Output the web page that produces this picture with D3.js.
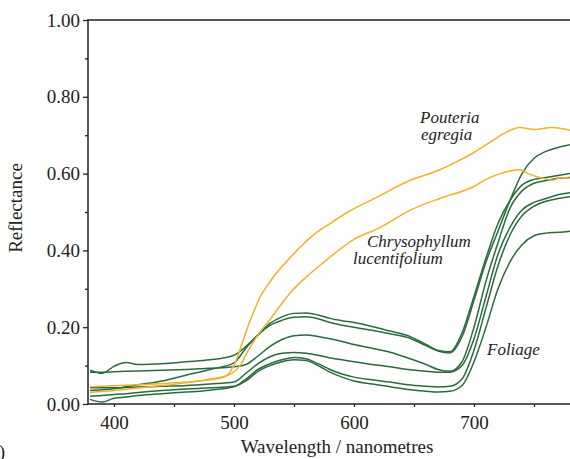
<!DOCTYPE html>
<html><head><meta charset="utf-8">
<script src="https://cdn.jsdelivr.net/npm/d3@7"></script>
<style>body{margin:0;background:#fff;} svg{display:block;}</style>
</head><body>
<svg id="chart" width="570" height="459"></svg>
<script>
// ---- data ----
const yTicks = [0, 0.2, 0.4, 0.6, 0.8, 1.0];
const yMinorTicks = [0.1, 0.3, 0.5, 0.7, 0.9];
const xTicks = [400, 500, 600, 700];
const xMinorTicks = [450, 550, 650, 750];

const greenNm = [380,390,400,410,420,440,460,480,500,510,520,530,540,550,560,570,580,590,600,615,630,645,660,670,680,690,700,710,720,730,740,750,760,770,780];
const foliage1 = [0.088,0.080,0.098,0.108,0.103,0.105,0.110,0.115,0.127,0.150,0.180,0.210,0.227,0.236,0.237,0.232,0.223,0.217,0.212,0.202,0.190,0.178,0.155,0.140,0.136,0.185,0.280,0.380,0.470,0.530,0.570,0.585,0.590,0.595,0.600];
const foliage2 = [0.035,0.037,0.040,0.045,0.050,0.060,0.075,0.090,0.107,0.146,0.180,0.205,0.218,0.226,0.227,0.222,0.212,0.205,0.200,0.192,0.183,0.173,0.152,0.138,0.133,0.175,0.270,0.370,0.450,0.530,0.600,0.640,0.658,0.668,0.675];
const foliage3 = [0.083,0.083,0.084,0.085,0.086,0.088,0.090,0.093,0.097,0.103,0.125,0.150,0.168,0.178,0.180,0.176,0.170,0.163,0.155,0.145,0.135,0.120,0.103,0.090,0.085,0.110,0.200,0.320,0.420,0.510,0.555,0.575,0.582,0.588,0.590];
const foliage4 = [0.042,0.042,0.042,0.043,0.044,0.046,0.048,0.052,0.057,0.080,0.105,0.123,0.132,0.134,0.132,0.127,0.120,0.115,0.110,0.103,0.097,0.090,0.085,0.083,0.083,0.100,0.170,0.280,0.390,0.460,0.505,0.525,0.535,0.545,0.550];
const foliage5 = [0.020,0.022,0.025,0.027,0.030,0.035,0.039,0.042,0.046,0.065,0.090,0.105,0.115,0.121,0.118,0.105,0.090,0.078,0.070,0.063,0.057,0.050,0.046,0.044,0.046,0.065,0.140,0.250,0.360,0.440,0.490,0.515,0.528,0.535,0.540];
const foliage6 = [0.012,0.005,0.015,0.018,0.022,0.027,0.031,0.036,0.045,0.060,0.085,0.100,0.110,0.115,0.113,0.100,0.083,0.070,0.060,0.052,0.045,0.038,0.033,0.031,0.033,0.048,0.110,0.200,0.300,0.370,0.415,0.438,0.445,0.447,0.450];

const pouteriaNm = [380,420,460,490,497,502,507,512,517,522,527,535,545,555,565,580,595,620,645,670,685,700,715,727,738,750,765,780];
const pouteria   = [0.045,0.050,0.057,0.068,0.085,0.115,0.160,0.205,0.245,0.280,0.305,0.340,0.375,0.408,0.437,0.470,0.500,0.540,0.580,0.608,0.630,0.655,0.685,0.708,0.720,0.715,0.720,0.713];
const chrysoNm = [380,400,430,460,480,495,505,512,520,530,547,560,574,599,622,647,672,699,710,720,730,738,745,755,766,772,780];
const chryso   = [0.030,0.035,0.045,0.055,0.065,0.075,0.100,0.140,0.180,0.220,0.290,0.330,0.367,0.427,0.460,0.505,0.536,0.565,0.585,0.598,0.607,0.610,0.600,0.590,0.583,0.590,0.588];

// ---- layout ----
const svg = d3.select("#chart");
const L = 88, T = 20, B = 404, R = 572;
const x = d3.scaleLinear().domain([400, 700]).range([114, 474]);
const y = d3.scaleLinear().domain([0, 1]).range([B, T]);
const FONT = "'Liberation Serif','Times New Roman',serif";
const GREEN = "#2a6b3d", YELLOW = "#f0b12c";

svg.append("defs").append("clipPath").attr("id","clip")
  .append("rect").attr("x", L).attr("y", T).attr("width", R - L).attr("height", B - T);

const line = d3.line().x(d => x(d[0])).y(d => y(d[1])).curve(d3.curveMonotoneX);
const g = svg.append("g").attr("clip-path","url(#clip)");

[foliage1, foliage2, foliage3, foliage4, foliage5, foliage6].forEach(s => {
  g.append("path").datum(greenNm.map((n,i) => [n, s[i]]))
    .attr("d", line).attr("fill","none").attr("stroke", GREEN).attr("stroke-width", 1.5);
});
g.append("path").datum(chrysoNm.map((n,i)=>[n, chryso[i]]))
  .attr("d", line).attr("fill","none").attr("stroke", YELLOW).attr("stroke-width", 1.5);
g.append("path").datum(pouteriaNm.map((n,i)=>[n, pouteria[i]]))
  .attr("d", line).attr("fill","none").attr("stroke", YELLOW).attr("stroke-width", 1.5);

// ---- axes ----
const yAxis = d3.axisLeft(y).tickValues(yTicks).tickFormat(d3.format(".2f")).tickSize(5).tickPadding(3);
const yAxisMinor = d3.axisLeft(y).tickValues(yMinorTicks).tickFormat("").tickSize(3);
const xAxis = d3.axisBottom(x).tickValues(xTicks).tickFormat(d3.format("d")).tickSize(3).tickPadding(9);
const xAxisMinor = d3.axisBottom(x).tickValues(xMinorTicks).tickFormat("").tickSize(3);

function style(sel){
  sel.select(".domain").remove();
  sel.selectAll("line").attr("stroke","#222").attr("stroke-width",1.3);
  sel.selectAll("text").attr("font-family",FONT).attr("font-size",19).attr("fill","#222");
}
svg.append("g").attr("transform",`translate(${L},0)`).call(yAxis).call(style);
svg.append("g").attr("transform",`translate(${L},0)`).call(yAxisMinor).call(style);
svg.append("g").attr("transform",`translate(0,${B})`).call(xAxis).call(style);
svg.append("g").attr("transform",`translate(0,${B})`).call(xAxisMinor).call(style);

// frame
svg.append("rect").attr("x", L).attr("y", T).attr("width", R - L).attr("height", B - T)
  .attr("fill","none").attr("stroke","#222").attr("stroke-width",1.5);

// titles
svg.append("text").attr("x", 337).attr("y", 453).attr("text-anchor","middle")
  .attr("font-family",FONT).attr("font-size",19).attr("fill","#222").text("Wavelength / nanometres");
svg.append("text").attr("transform","translate(22,208) rotate(-90)").attr("text-anchor","middle")
  .attr("font-family",FONT).attr("font-size",19).attr("fill","#222").text("Reflectance");

// annotations
const notes = [
  ["Pouteria", 420, 123], ["egregia", 421, 140],
  ["Chrysophyllum", 367, 247], ["lucentifolium", 353, 264],
  ["Foliage", 487, 355]
];
notes.forEach(([t, px, py]) => svg.append("text").attr("x", px).attr("y", py)
  .attr("font-family",FONT).attr("font-style","italic").attr("font-size",17).attr("fill","#222").text(t));

svg.append("text").attr("x", 5).attr("y", 458).attr("text-anchor","end")
  .attr("font-family",FONT).attr("font-size",19).attr("fill","#222").text("b)");
</script>
</body></html>
